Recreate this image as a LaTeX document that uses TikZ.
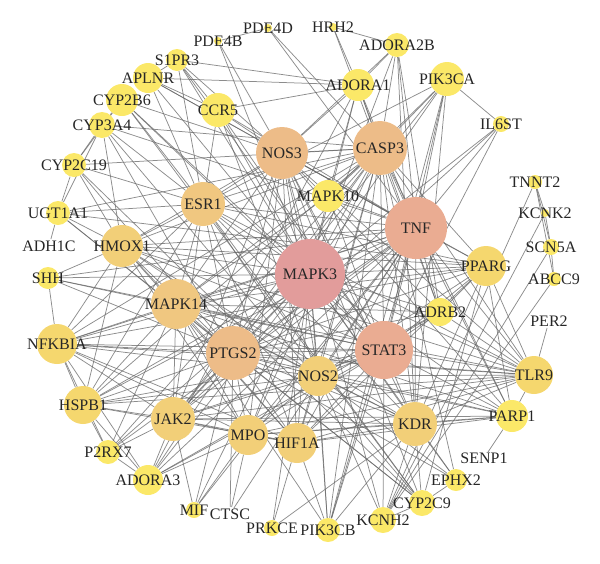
\documentclass[tikz,border=0pt]{standalone}
\usepackage{fontspec}
\setmainfont{Liberation Serif}
\usetikzlibrary{backgrounds}
\definecolor{cA}{RGB}{226,156,155}
\definecolor{cB}{RGB}{234,172,146}
\definecolor{cC}{RGB}{237,188,136}
\definecolor{cD}{RGB}{240,199,128}
\definecolor{cE}{RGB}{242,207,120}
\definecolor{cF}{RGB}{245,215,110}
\definecolor{cG}{RGB}{251,232,104}
\begin{document}
\begin{tikzpicture}[x=1pt,y=-1pt,
  gnode/.style={circle,inner sep=0pt,draw=none},
  edge/.style={draw=black!60,line width=0.75pt,opacity=0.75},
  lbl/.style={font=\fontsize{16}{19}\selectfont,text=black!85,inner sep=0pt}]
\useasboundingbox (0,0) rectangle (600,563);
% nodes: name/x/y/diameter/colour
\foreach \n/\x/\y/\d/\c in {
  MAPK3/310/274/70/cA, TNF/416/228/62/cB, STAT3/384/350/58/cB,
  CASP3/380/148/54/cC, NOS3/282/153/52/cC, PTGS2/233/353/54/cC,
  ESR1/203/204/44/cD, MAPK14/176/304/50/cD, HMOX1/122/246/42/cE,
  NOS2/318/376/40/cE, KDR/415/424/44/cE, JAK2/173/419/44/cE,
  MPO/248/435/40/cE, HIF1A/297/443/40/cE, NFKBIA/57/344/40/cF,
  HSPB1/83/405/38/cF, TLR9/534/375/38/cF, PPARG/486/266/40/cF,
  PARP1/512/416/32/cG, ADRB2/440/312/28/cG, MAPK10/328/196/32/cG,
  CCR5/218/110/34/cG, PIK3CA/447/79/34/cG, ADORA1/358/85/32/cG,
  ADORA2B/397/45/24/cG, HRH2/333/27/8/cG, PDE4D/268/28/8/cG,
  PDE4B/218/41/8/cG, S1PR3/177/60/22/cG, APLNR/148/78/30/cG,
  CYP2B6/122/100/32/cG, CYP3A4/102/125/26/cG, CYP2C19/74/165/24/cG,
  UGT1A1/58/213/24/cG, ADH1C/49/246/14/none, SHH/48/278/22/cG,
  IL6ST/501/124/16/cG, TNNT2/535/182/14/cG, KCNK2/545/213/8/cG,
  SCN5A/551/247/16/cG, ABCC9/554/279/14/cG, PER2/549/321/14/none,
  SENP1/484/458/14/none, EPHX2/456/480/22/cG, CYP2C9/422/503/26/cG,
  KCNH2/383/520/26/cG, PIK3CB/328/530/24/cG, PRKCE/272/528/16/cG,
  CTSC/230/514/14/none, MIF/194/510/16/cG, ADORA3/148/480/30/cG,
  P2RX7/108/452/24/cG}
  \node[gnode,minimum size=\d pt,fill=\c] (\n) at (\x,\y) {};
% connectors
\begin{scope}[on background layer]
\foreach \s/\ts in {
  MAPK3/{TNF,STAT3,CASP3,NOS3,PTGS2,ESR1,MAPK14,HMOX1,NOS2,KDR,JAK2,MPO,HIF1A,NFKBIA,HSPB1,TLR9,PPARG,PARP1,ADRB2,MAPK10,CCR5,PIK3CA,ADORA1,ADORA2B,PDE4B,S1PR3,APLNR,CYP2B6,SHH,IL6ST,PIK3CB,PRKCE,ADORA3,P2RX7,MIF,EPHX2},
  TNF/{STAT3,CASP3,NOS3,PTGS2,ESR1,MAPK14,HMOX1,NOS2,KDR,JAK2,MPO,HIF1A,NFKBIA,HSPB1,TLR9,PPARG,PARP1,ADRB2,MAPK10,CCR5,PIK3CA,ADORA1,ADORA2B,APLNR,CYP3A4,SHH,IL6ST,MIF,PIK3CB,ADORA3,P2RX7,CTSC,PDE4D},
  STAT3/{CASP3,NOS3,PTGS2,ESR1,MAPK14,HMOX1,NOS2,KDR,JAK2,MPO,HIF1A,NFKBIA,HSPB1,TLR9,PPARG,PARP1,MAPK10,CCR5,PIK3CA,IL6ST,ADRB2,S1PR3,CYP2B6,PIK3CB,ADORA3,KCNH2,SHH},
  CASP3/{NOS3,PTGS2,ESR1,MAPK14,HMOX1,NOS2,KDR,JAK2,MPO,HIF1A,NFKBIA,HSPB1,TLR9,PPARG,PARP1,MAPK10,PIK3CA,ADORA1,ADORA2B,CYP3A4,CYP2C19,UGT1A1,PIK3CB,P2RX7,EPHX2},
  NOS3/{PTGS2,ESR1,MAPK14,HMOX1,NOS2,KDR,HIF1A,MPO,PPARG,ADRB2,CCR5,ADORA1,ADORA2B,CYP2B6,APLNR,S1PR3,TLR9,CYP2C9,KCNH2,PDE4B,JAK2,PARP1},
  PTGS2/{ESR1,MAPK14,HMOX1,NOS2,KDR,JAK2,MPO,HIF1A,NFKBIA,HSPB1,TLR9,PPARG,PARP1,ADRB2,CYP2C9,CYP2C19,CYP3A4,UGT1A1,EPHX2,ADORA3,SHH,MIF,CTSC},
  ESR1/{MAPK14,HMOX1,NOS2,KDR,JAK2,HIF1A,NFKBIA,PPARG,CYP3A4,CYP2B6,CYP2C19,UGT1A1,CCR5,APLNR,S1PR3,HSPB1,PIK3CA,TLR9,CYP2C9},
  MAPK14/{HMOX1,NOS2,KDR,JAK2,MPO,HIF1A,NFKBIA,HSPB1,TLR9,PPARG,PARP1,MAPK10,SHH,ADRB2,PIK3CB,P2RX7},
  HMOX1/{NOS2,KDR,HIF1A,NFKBIA,HSPB1,PPARG,SHH,UGT1A1,CYP3A4,CYP2C19,MPO,TLR9},
  NOS2/{KDR,JAK2,MPO,HIF1A,NFKBIA,TLR9,PPARG,PARP1,ADRB2,HSPB1,CCR5,KCNH2,PIK3CB,EPHX2},
  KDR/{JAK2,HIF1A,MPO,PPARG,PIK3CA,PIK3CB,PRKCE,TLR9,PARP1,CYP2C9,KCNH2,EPHX2},
  JAK2/{MPO,HIF1A,NFKBIA,HSPB1,TLR9,PARP1,PIK3CA,ADORA3,P2RX7,IL6ST,MIF},
  MPO/{HIF1A,TLR9,PARP1,ADORA3,MIF,CTSC,NFKBIA},
  HIF1A/{TLR9,PARP1,PIK3CB,PRKCE,PPARG,NFKBIA,HSPB1},
  NFKBIA/{HSPB1,TLR9,PPARG,SHH,ADORA3,P2RX7},
  HSPB1/{TLR9,ADORA3,P2RX7},
  TLR9/{PPARG,PARP1,PER2,ADRB2},
  PPARG/{ADRB2,PARP1,UGT1A1,CYP2C9},
  PDE4B/{PDE4D},
  PDE4D/{CASP3},
  HRH2/{ADORA2B,ADORA1,ADRB2},
  ADORA2B/{ADORA1,ADRB2,KDR},
  ADORA1/{ADORA3,ADRB2,APLNR,CCR5,S1PR3,MAPK10},
  PIK3CA/{IL6ST,PIK3CB,MAPK10},
  TNNT2/{SCN5A,ABCC9,KCNH2,KCNK2},
  KCNK2/{SCN5A,KCNH2},
  SCN5A/{ABCC9,KCNH2},
  ABCC9/{KCNH2},
  SENP1/{PARP1},
  EPHX2/{CYP2C9},
  CYP2C9/{KCNH2,CYP2C19,CYP3A4,CYP2B6,UGT1A1},
  CYP2C19/{CYP3A4,UGT1A1,CYP2B6},
  CYP3A4/{CYP2B6,UGT1A1},
  UGT1A1/{ADH1C},
  APLNR/{S1PR3,CCR5},
  S1PR3/{CCR5},
  ADORA3/{P2RX7,ADRB2}}
  {\foreach \t in \ts {\draw[edge] (\s) -- (\t);}}
\end{scope}
% labels
\foreach \n in {MAPK3,TNF,STAT3,CASP3,NOS3,PTGS2,ESR1,MAPK14,HMOX1,NOS2,KDR,JAK2,
  MPO,HIF1A,NFKBIA,HSPB1,TLR9,PPARG,PARP1,ADRB2,MAPK10,CCR5,PIK3CA,ADORA1,
  ADORA2B,HRH2,PDE4D,PDE4B,S1PR3,APLNR,CYP2B6,CYP3A4,CYP2C19,UGT1A1,ADH1C,SHH,
  IL6ST,TNNT2,KCNK2,SCN5A,ABCC9,PER2,SENP1,EPHX2,CYP2C9,KCNH2,PIK3CB,PRKCE,
  CTSC,MIF,ADORA3,P2RX7}
  \node[lbl] (\n-l) at (\n) {\n};
\end{tikzpicture}
\end{document}
